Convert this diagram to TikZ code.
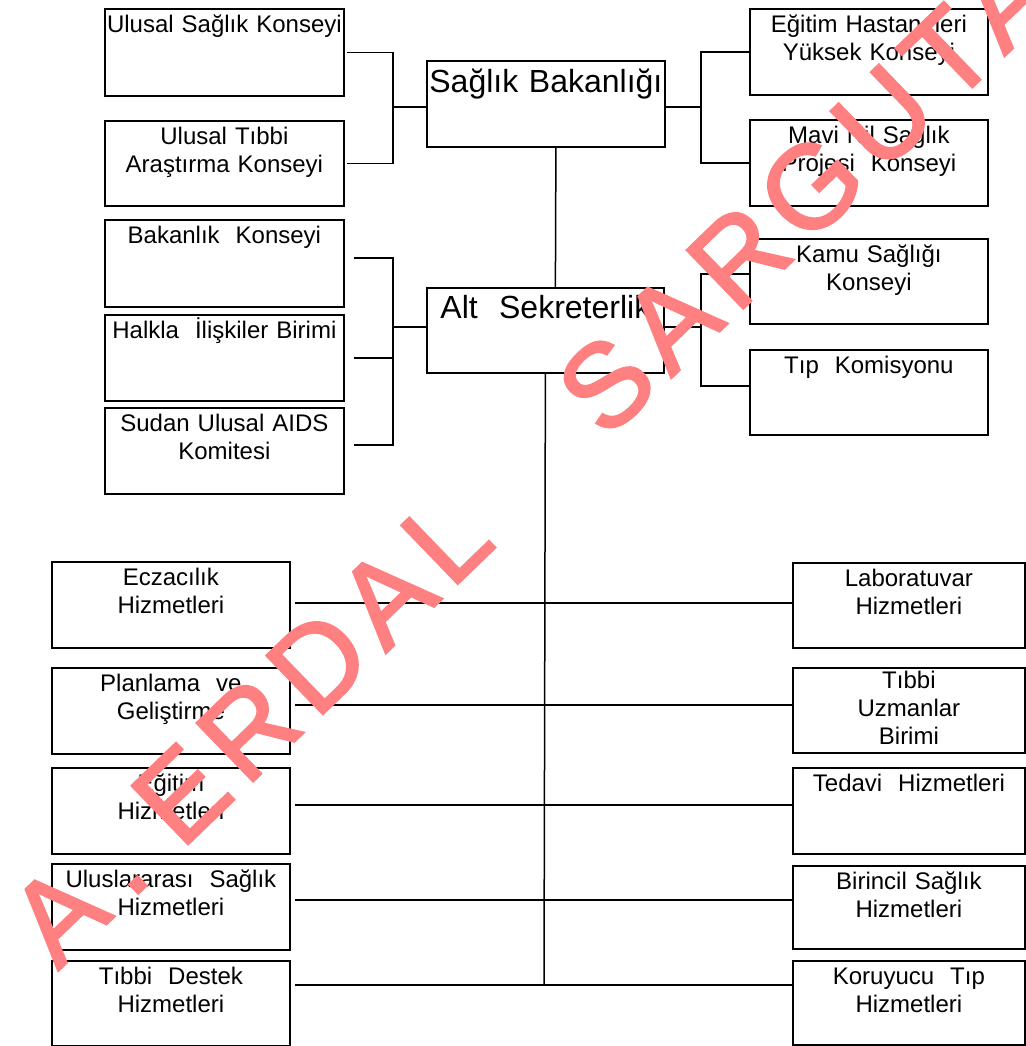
\documentclass[tikz,border=0pt]{standalone}
\usepackage{fontspec}
\setmainfont{Liberation Sans}
\newfontfamily\wmfont[LetterSpace=10,FakeBold=2]{Liberation Sans}

\definecolor{wmred}{RGB}{255,128,128}
\tikzset{
  orgbox/.style={draw, line width=1.8pt, anchor=north west, inner sep=0pt, align=center,
    font=\fontsize{24}{28}\selectfont, text height=24pt},
  bigbox/.style={orgbox, font=\fontsize{32}{36}\selectfont, text height=32pt},
  conn/.style={line width=1.5pt},
  wmark/.style={anchor=base west, inner sep=0pt, rotate=44, text=wmred,
    font=\wmfont\fontsize{118}{118}\selectfont}
}

\begin{document}
\begin{tikzpicture}[x=1pt,y=-1pt]
  \useasboundingbox (0,0) rectangle (1025,1046);
  % ministry and under-secretariat
  \node[bigbox, text width=238pt, text depth=54pt] (sb) at (426,60) {Sağlık Bakanlığı};
  \node[bigbox, text width=237pt, text height=31pt, text depth=54pt] (as) at (426,287) {Alt~~Sekreterlik};
  % councils, left
  \node[orgbox, text width=239pt, text depth=63pt] (usk) at (104,8) {Ulusal Sağlık Konseyi};
  \node[orgbox, text width=239pt, text depth=61pt] (utak) at (104,120) {Ulusal Tıbbi\\Araştırma Konseyi};
  \node[orgbox, text width=239pt, text depth=63pt] (bk) at (104,219) {Bakanlık~~Konseyi};
  \node[orgbox, text width=239pt, text depth=62pt] (hib) at (104,314) {Halkla~~İlişkiler Birimi};
  \node[orgbox, text width=239pt, text depth=62pt] (suak) at (104,407) {Sudan Ulusal AIDS\\Komitesi};
  % councils, right
  \node[orgbox, text width=238pt, text depth=62pt] (ehyk) at (749,8) {Eğitim Hastaneleri\\Yüksek Konseyi};
  \node[orgbox, text width=238pt, text depth=62pt] (mnsp) at (749,119) {Mavi Nil Sağlık\\Projesi~~Konseyi};
  \node[orgbox, text width=238pt, text depth=61pt] (ksk) at (749,238) {Kamu Sağlığı\\Konseyi};
  \node[orgbox, text width=238pt, text depth=61pt] (tk) at (749,349) {Tıp~~Komisyonu};
  % services, left
  \node[orgbox, text width=238pt, text depth=62pt] (ecz) at (51,561) {Eczacılık\\Hizmetleri};
  \node[orgbox, text width=238pt, text depth=62pt] (pvg) at (51,667) {Planlama~~ve\\Geliştirme};
  \node[orgbox, text width=238pt, text depth=62pt] (egh) at (51,767) {Eğitim\\Hizmetleri};
  \node[orgbox, text width=238pt, text depth=62pt] (ush) at (51,863) {Uluslararası~~Sağlık\\Hizmetleri};
  \node[orgbox, text width=238pt, text depth=61pt] (tdh) at (51,960) {Tıbbi~~Destek\\Hizmetleri};
  % services, right
  \node[orgbox, text width=232pt, text depth=61pt] (lab) at (792,562) {Laboratuvar\\Hizmetleri};
  \node[orgbox, text width=232pt, text height=21pt, text depth=64pt] (tub) at (792,667) {Tıbbi\\Uzmanlar\\Birimi};
  \node[orgbox, text width=232pt, text depth=62pt] (ted) at (792,767) {Tedavi~~Hizmetleri};
  \node[orgbox, text width=232pt, text depth=59pt] (bsh) at (792,865) {Birincil Sağlık\\Hizmetleri};
  \node[orgbox, text width=232pt, text depth=60pt] (kth) at (792,960) {Koruyucu~~Tıp\\Hizmetleri};

  \coordinate (jl1) at (393,107);
  \coordinate (jr1) at (701,107);
  \coordinate (jl2) at (393,327);
  \coordinate (jr2) at (701,327);
  \coordinate (spend) at (544,985);

  \draw[conn, shorten <=2pt, shorten >=2pt] (usk.east) -| (jl1) |- (utak.east);
  \draw[conn] (jl1) -- (sb.west |- jl1);
  \draw[conn] (ehyk.west) -| (jr1) |- (mnsp.west);
  \draw[conn] (sb.east |- jr1) -- (jr1);
  \draw[conn] ([xshift=10pt]sb.south) -- ([xshift=10pt]as.north);
  \draw[conn, shorten <=9pt, shorten >=9pt] (bk.east |- 0,258) -| (jl2) |- (suak.east |- 0,445);
  \draw[conn, shorten <=9pt] (hib.east) -- (hib.east -| jl2);
  \draw[conn] (jl2) -- (as.west |- jl2);
  \draw[conn] (ksk.west |- 0,274) -| (jr2) |- (tk.west |- 0,386);
  \draw[conn] (as.east |- jr2) -- (jr2);
  \draw[conn] (as.south) -- (spend);
  \draw[conn, shorten <=4pt] (ecz.east |- 0,603) -- (lab.west |- 0,603);
  \draw[conn, shorten <=4pt] (pvg.east |- 0,705) -- (tub.west |- 0,705);
  \draw[conn, shorten <=4pt] (egh.east |- 0,805) -- (ted.west |- 0,805);
  \draw[conn, shorten <=4pt] (ush.east |- 0,900) -- (bsh.west |- 0,900);
  \draw[conn, shorten <=4pt] (tdh.east |- spend) -- (kth.west |- spend);

  % watermark
  \node[wmark] (wm1) at (58,971) {A\hspace{22pt}.};
  \node[wmark] (wm2) at (181,851) {ERDAL};
  \node[wmark] (wm3) at (606,441) {SARGUTAN};
\end{tikzpicture}
\end{document}
